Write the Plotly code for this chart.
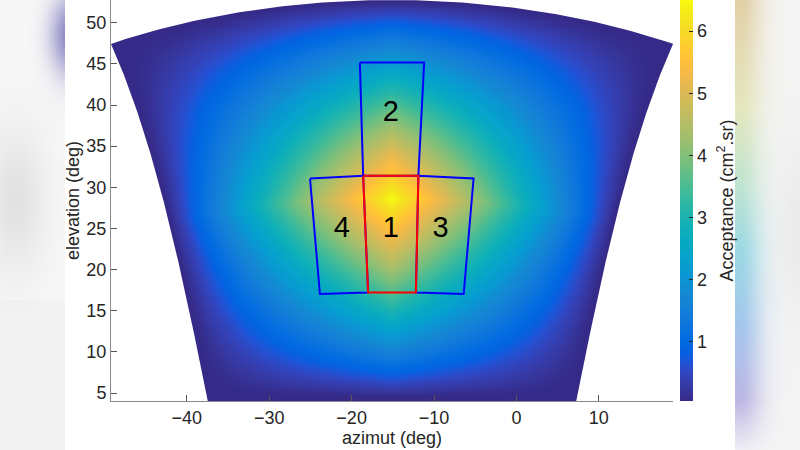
import math, zlib, struct, base64
import numpy as np
import plotly.graph_objects as go

# ---------------- data / model parameters ----------------
AZ0 = -15.1          # pointing azimuth (deg)
EL0 = 28.55          # pointing elevation (deg)
HALF_FOV = 24.2      # half opening angle of the telescope (deg)
A_MAX = 6.5          # peak acceptance (cm2.sr)
STEP = 0.2           # map resolution (deg)

X_RANGE = [-49.2, 19.0]
Y_RANGE = [4.03, 52.76]
C_RANGE = [0.05, 6.5]
X_TICKS = [-40, -30, -20, -10, 0, 10]
Y_TICKS = [5, 10, 15, 20, 25, 30, 35, 40, 45, 50]
C_TICKS = [1, 2, 3, 4, 5, 6]

region1_az = [-18.6, -11.9, -12.2, -18.0, -18.6]
region1_el = [31.39, 31.39, 17.22, 17.22, 31.39]
region2_az = [-19.0, -11.2, -11.9, -18.6, -19.0]
region2_el = [45.15, 45.15, 31.39, 31.39, 45.15]
region3_az = [-11.9, -5.2, -6.4, -12.2, -11.9]
region3_el = [31.39, 31.06, 17.03, 17.22, 31.39]
region4_az = [-25.05, -18.6, -18.0, -23.85, -25.05]
region4_el = [31.06, 31.39, 17.22, 17.03, 31.06]

label_text = ["1", "2", "3", "4"]
label_az = [-15.25, -15.25, -9.2, -21.2]
label_el = [24.9, 38.9, 24.8, 24.8]

# ---------------- acceptance map ----------------
e0 = math.radians(EL0)
t = math.tan(math.radians(HALF_FOV))
az = np.arange(X_RANGE[0] - 0.6, X_RANGE[1] + 0.6, STEP)
el = np.arange(Y_RANGE[0] - 0.6, Y_RANGE[1] + 0.6, STEP)
AZ, EL = np.meshgrid(az, el)
d = np.radians(AZ - AZ0)
e = np.radians(EL)
dx = np.cos(e) * np.cos(d)
dy = np.cos(e) * np.sin(d)
dz = np.sin(e)
db = dx * math.cos(e0) + dz * math.sin(e0)
du = -dx * math.sin(e0) + dz * math.cos(e0)
ta = dy / db
tb = du / db
inside = (db > 0) & (np.abs(ta) <= 1.06 * t) & (np.abs(tb) <= 1.06 * t)
Z = A_MAX * np.clip(1 - np.abs(ta) / t, 0, 1) * np.clip(1 - np.abs(tb) / t, 0, 1)
Z = np.where(inside, np.round(Z, 3), np.nan)

def tel_to_azel(a, b):
    x = math.cos(e0) - b * math.sin(e0)
    y = a
    z = math.sin(e0) + b * math.cos(e0)
    return AZ0 + math.degrees(math.atan2(y, x)), math.degrees(math.atan2(z, math.hypot(x, y)))

N = 120
top_pts = [tel_to_azel(t * (-1.1 + 2.2 * i / N), t) for i in range(N + 1)]
left_pts = [tel_to_azel(-t, t * (1.0 - 2.15 * i / N)) for i in range(N + 1)]
right_pts = [tel_to_azel(t, t * (1.0 - 2.15 * i / N)) for i in range(N + 1)]

parula = [
 [0.2081, 0.1663, 0.5292], [0.2116, 0.1898, 0.5777], [0.2123, 0.2138, 0.6270], [0.2081, 0.2386, 0.6771],
 [0.1959, 0.2645, 0.7279], [0.1707, 0.2919, 0.7792], [0.1253, 0.3242, 0.8303], [0.0591, 0.3598, 0.8683],
 [0.0117, 0.3875, 0.8820], [0.0060, 0.4086, 0.8828], [0.0165, 0.4266, 0.8786], [0.0329, 0.4430, 0.8720],
 [0.0498, 0.4586, 0.8641], [0.0629, 0.4737, 0.8554], [0.0723, 0.4887, 0.8467], [0.0779, 0.5040, 0.8384],
 [0.0793, 0.5200, 0.8312], [0.0749, 0.5375, 0.8263], [0.0641, 0.5570, 0.8240], [0.0488, 0.5772, 0.8228],
 [0.0343, 0.5966, 0.8199], [0.0265, 0.6137, 0.8135], [0.0239, 0.6287, 0.8038], [0.0231, 0.6418, 0.7913],
 [0.0228, 0.6535, 0.7768], [0.0267, 0.6642, 0.7607], [0.0384, 0.6743, 0.7436], [0.0590, 0.6838, 0.7254],
 [0.0843, 0.6928, 0.7062], [0.1133, 0.7015, 0.6859], [0.1453, 0.7098, 0.6646], [0.1801, 0.7177, 0.6424],
 [0.2178, 0.7250, 0.6193], [0.2586, 0.7317, 0.5954], [0.3022, 0.7376, 0.5712], [0.3482, 0.7424, 0.5473],
 [0.3953, 0.7459, 0.5244], [0.4420, 0.7481, 0.5033], [0.4871, 0.7491, 0.4840], [0.5300, 0.7491, 0.4661],
 [0.5709, 0.7485, 0.4494], [0.6099, 0.7473, 0.4337], [0.6473, 0.7456, 0.4188], [0.6834, 0.7435, 0.4044],
 [0.7184, 0.7411, 0.3905], [0.7525, 0.7384, 0.3768], [0.7858, 0.7356, 0.3633], [0.8185, 0.7327, 0.3498],
 [0.8507, 0.7299, 0.3360], [0.8824, 0.7274, 0.3217], [0.9139, 0.7258, 0.3063], [0.9450, 0.7261, 0.2886],
 [0.9739, 0.7314, 0.2666], [0.9938, 0.7455, 0.2403], [0.9990, 0.7653, 0.2164], [0.9955, 0.7861, 0.1967],
 [0.9880, 0.8066, 0.1794], [0.9789, 0.8271, 0.1633], [0.9697, 0.8481, 0.1475], [0.9626, 0.8705, 0.1309],
 [0.9589, 0.8949, 0.1132], [0.9598, 0.9218, 0.0948], [0.9661, 0.9514, 0.0755], [0.9763, 0.9831, 0.0538]]
colorscale = [[i / (len(parula) - 1), "rgb(%d,%d,%d)" % tuple(int(round(c * 255)) for c in col)]
              for i, col in enumerate(parula)]

# ---------------- layout geometry ----------------
W, H = 800, 450
ML, MR, MT, MB = 111, 127, 0, 49
PW, PH = W - ML - MR, H - MT - MB
FONT = "Liberation Sans, Arial, sans-serif"
TXT = "#262626"

def px2paper_x(px):
    return (px - ML) / PW

def py2paper_y(py):
    return (H - MB - py) / PH

# ---------------- blurred side strips (decoration) ----------------
def png_uri(w, h, fn):
    rows = bytearray()
    for y in range(h):
        rows.append(0)
        for x in range(w):
            rows += bytes(fn(x, y))
    def chunk(tag, data):
        return struct.pack(">I", len(data)) + tag + data + struct.pack(">I", zlib.crc32(tag + data) & 0xffffffff)
    png = (b"\x89PNG\r\n\x1a\n" + chunk(b"IHDR", struct.pack(">IIBBBBB", w, h, 8, 2, 0, 0, 0))
           + chunk(b"IDAT", zlib.compress(bytes(rows), 9)) + chunk(b"IEND", b""))
    return "data:image/png;base64," + base64.b64encode(png).decode()

def blend(c, col, a):
    return [c[i] * (1 - a) + col[i] * a for i in range(3)]

def left_fn(x, y):
    c = [248, 248, 248] if y < 300 else [244, 244, 244]
    c = blend(c, [212, 212, 214], 0.6 * math.exp(-((x - 15) / 32) ** 2 - ((y - 200) / 75) ** 2))
    c = blend(c, [118, 112, 185], 0.85 * math.exp(-((x - 70) / 20) ** 2 - ((y - 35) / 40) ** 2))
    return [max(0, min(255, int(v))) for v in c]

stops = [(0, (222, 200, 150)), (40, (226, 212, 165)), (110, (225, 228, 180)), (190, (180, 225, 205)),
         (250, (140, 212, 225)), (330, (150, 188, 235)), (400, (180, 172, 225)), (450, (240, 238, 245))]

def stop_col(y):
    for (y0, c0), (y1, c1) in zip(stops[:-1], stops[1:]):
        if y0 <= y <= y1:
            f = (y - y0) / (y1 - y0)
            return [c0[i] + (c1[i] - c0[i]) * f for i in range(3)]
    return list(stops[-1][1])

def right_fn(x, y):
    X = 735 + x
    c = [245, 245, 245]
    c = blend(c, [228, 228, 228], 0.6 * math.exp(-((X - 800) / 25) ** 2 - ((y - 230) / 90) ** 2))
    c = blend(c, stop_col(y), 0.85 * math.exp(-((X - 738) / 24) ** 2))
    return [max(0, min(255, int(v))) for v in c]

left_img = png_uri(65, 450, left_fn)
right_img = png_uri(65, 450, right_fn)

# ---------------- figure ----------------
fig = go.Figure()
fig.add_trace(go.Heatmap(
    x=az, y=el, z=Z, colorscale=colorscale, zmin=C_RANGE[0], zmax=C_RANGE[1],
    zsmooth=False, hoverinfo="skip",
    colorbar=dict(x=px2paper_x(680), xanchor="left", xpad=0, ypad=0, thickness=13, thicknessmode="pixels",
                  len=1, lenmode="fraction", y=0.5, yanchor="middle",
                  tickvals=C_TICKS, ticks="inside", ticklen=4, tickcolor=TXT,
                  tickfont=dict(family=FONT, size=18, color=TXT), outlinewidth=0),
))

# white masks that give the field of view its smooth outline
XL, XR, YT = X_RANGE[0] - 10, X_RANGE[1] + 10, Y_RANGE[1] + 10
YB = Y_RANGE[0] - 10
masks = [
    ([p[0] for p in top_pts] + [XR, XL], [p[1] for p in top_pts] + [YT, YT]),
    ([p[0] for p in left_pts] + [XL, XL], [p[1] for p in left_pts] + [YB, YT]),
    ([p[0] for p in right_pts] + [XR, XR], [p[1] for p in right_pts] + [YB, YT]),
]
for mx, my in masks:
    fig.add_trace(go.Scatter(x=mx, y=my, mode="lines", fill="toself", fillcolor="white",
                             line=dict(width=0, color="white"), hoverinfo="skip", showlegend=False))

for raz, rel, col in [(region2_az, region2_el, "#0000ff"), (region3_az, region3_el, "#0000ff"),
                      (region4_az, region4_el, "#0000ff"), (region1_az, region1_el, "#ff0000")]:
    fig.add_trace(go.Scatter(x=raz, y=rel, mode="lines", line=dict(color=col, width=2),
                             hoverinfo="skip", showlegend=False))
fig.add_trace(go.Scatter(x=label_az, y=label_el, mode="text", text=label_text,
                         textfont=dict(family=FONT, size=29, color="black"),
                         hoverinfo="skip", showlegend=False))

axis_common = dict(showgrid=False, zeroline=False, showline=True, linecolor="#8a8a8a", linewidth=1,
                   ticks="inside", ticklen=6, tickcolor="#555555", mirror=False,
                   tickfont=dict(family=FONT, size=18, color=TXT))
fig.update_layout(
    width=W, height=H, margin=dict(l=ML, r=MR, t=MT, b=MB),
    paper_bgcolor="white", plot_bgcolor="white", showlegend=False,
    xaxis=dict(range=X_RANGE, tickvals=X_TICKS,
               title=dict(text="azimut (deg)", font=dict(family=FONT, size=18, color=TXT), standoff=4),
               **axis_common),
    yaxis=dict(range=Y_RANGE, tickvals=Y_TICKS,
               title=dict(text="elevation (deg)", font=dict(family=FONT, size=18, color=TXT), standoff=2),
               **axis_common),
    annotations=[dict(text="Acceptance (cm<sup>2</sup>.sr)", x=px2paper_x(726), y=0.5,
                      xref="paper", yref="paper", textangle=-90, showarrow=False,
                      xanchor="center", yanchor="middle",
                      font=dict(family=FONT, size=18, color=TXT))],
    images=[dict(source=left_img, xref="paper", yref="paper", x=px2paper_x(0), y=py2paper_y(0),
                 sizex=65 / PW, sizey=H / PH, sizing="stretch", xanchor="left", yanchor="top", layer="below"),
            dict(source=right_img, xref="paper", yref="paper", x=px2paper_x(735), y=py2paper_y(0),
                 sizex=65 / PW, sizey=H / PH, sizing="stretch", xanchor="left", yanchor="top", layer="below")],
)
fig.write_html("out.html", config={"displayModeBar": False},
               post_script="document.body.style.margin='0px';document.body.style.overflow='hidden';")
